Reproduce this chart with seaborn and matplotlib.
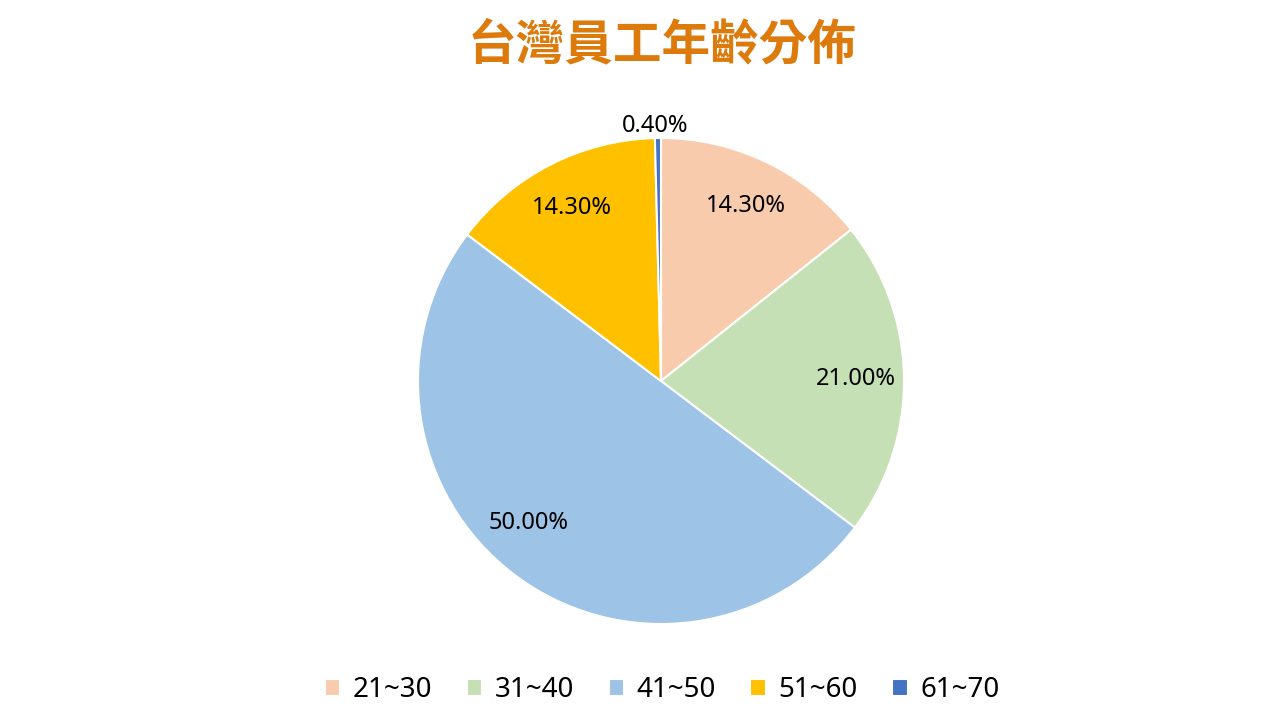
import numpy as np
import matplotlib
matplotlib.use("Agg")
import matplotlib.pyplot as plt
import seaborn as sns

categories = ["21~30", "31~40", "41~50", "51~60", "61~70"]
values = [14.3, 21.0, 50.0, 14.3, 0.4]
colors = ["#F8CBAD", "#C5E0B4", "#9DC3E6", "#FFC000", "#4472C4"]
title = "台灣員工年齡分佈"

sns.set_theme(style="white")
plt.rcParams['font.family'] = ['Noto Sans', 'Noto Sans CJK TC', 'DejaVu Sans']

fig = plt.figure(figsize=(12.8, 7.2), dpi=100)
cx, cy, r = 661, 381, 243
ax = fig.add_axes([(cx - r) / 1280, (720 - cy - r) / 720, 2 * r / 1280, 2 * r / 720])

wedges, texts, autotexts = ax.pie(
    values, colors=colors, startangle=90, counterclock=False,
    autopct=lambda p: f"{p:.2f}%", pctdistance=0.8,
    wedgeprops=dict(edgecolor="white", linewidth=1.5),
    textprops=dict(fontsize=17, color="black"),
)
ax.set_aspect("equal")
ax.set_xlim(-1, 1)
ax.set_ylim(-1, 1)

# big slice label sits a little further round (Excel best-fit)
w = wedges[2]
ang = np.deg2rad((w.theta1 + w.theta2) / 2 - 6)
autotexts[2].set_position((0.8 * np.cos(ang), 0.8 * np.sin(ang)))

# move the tiny slice label outside
w = wedges[-1]
ang = np.deg2rad((w.theta1 + w.theta2) / 2)
autotexts[-1].set_position((1.05 * np.cos(ang) - 0.01, 1.05 * np.sin(ang)))

fig.text(662 / 1280, 1 - 45 / 720, title, ha="center", va="center", fontsize=35,
         fontweight="bold", color="#DD7A0C", family=['Noto Sans CJK TC'])

leg = fig.legend(wedges, categories, loc="center", bbox_to_anchor=(662 / 1280, 1 - 690 / 720),
                 ncol=5, frameon=False, fontsize=20, handlelength=0.55,
                 handleheight=0.55, handletextpad=0.45, columnspacing=1.25)
for t in leg.get_texts():
    t.set_color("black")

fig.savefig("out.png", dpi=100)
